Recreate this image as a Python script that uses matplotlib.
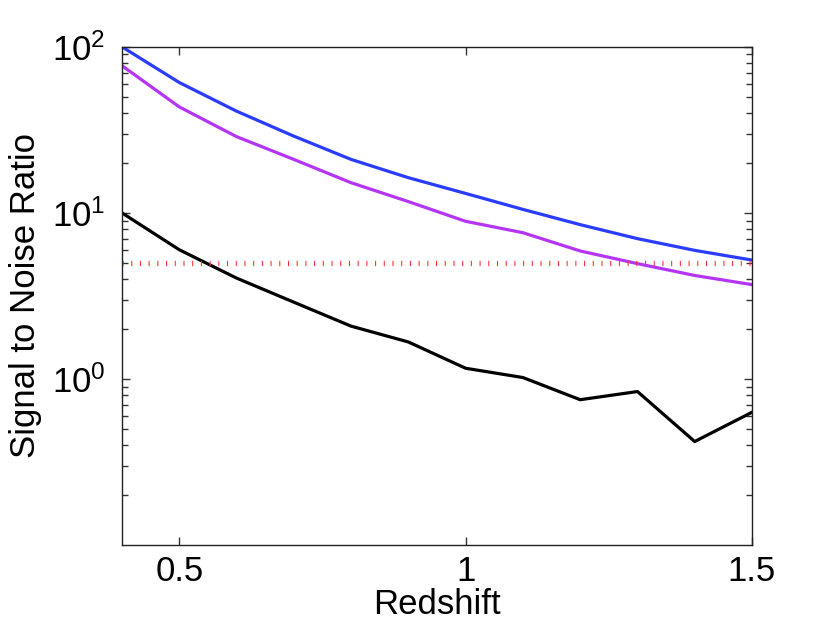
import matplotlib
matplotlib.use("Agg")
import matplotlib.pyplot as plt
import numpy as np

plt.rcParams['font.family'] = ['Liberation Sans', 'DejaVu Sans']
plt.rcParams['mathtext.fontset'] = 'custom'
plt.rcParams['mathtext.rm'] = 'Liberation Sans'
plt.rcParams['mathtext.it'] = 'Liberation Sans'

redshift = [0.4, 0.5, 0.6, 0.7, 0.8, 0.9, 1.0, 1.1, 1.2, 1.3, 1.4, 1.5]
snr_blue = [100, 61, 41, 29, 21, 16.3, 13.1, 10.5, 8.5, 7.0, 5.95, 5.2]
snr_purple = [77, 43.5, 28.8, 21, 15.2, 11.7, 8.9, 7.6, 5.9, 4.95, 4.2, 3.7]
snr_black = [10, 6.0, 4.05, 2.9, 2.08, 1.67, 1.16, 1.02, 0.75, 0.84, 0.42, 0.63]
threshold = 5

xticks = [0.5, 1, 1.5]
xticklabels = ['0.5', '1', '1.5']
yticks = [1, 10, 100]
yticklabels = [r'$10^{0}$', r'$10^{1}$', r'$10^{2}$']
yminor = [k * 10.0 ** e for e in (-1, 0, 1) for k in range(2, 10)]

fig = plt.figure(figsize=(8.3, 6.25), dpi=100)
ax = fig.add_axes([0.147, 0.128, 0.759, 0.797])

ax.plot(redshift, snr_blue, color='#2a3cff', lw=2.3)
ax.plot(redshift, snr_purple, color='#b535f5', lw=2.3)
ax.plot(redshift, snr_black, color='black', lw=2.3)
ax.axhline(threshold, color='#ff3030', lw=3.8, dash_capstyle='butt',
           linestyle=(0, (0.2, 1.45)))

ax.set_yscale('log')
ax.set_xlim(0.4, 1.5)
ax.set_ylim(0.1, 100)
ax.set_xticks(xticks)
ax.set_xticklabels(xticklabels)
ax.set_yticks(yticks)
ax.set_yticklabels(yticklabels)
ax.set_yticks(yminor, minor=True)
ax.yaxis.set_minor_formatter(matplotlib.ticker.NullFormatter())
ax.xaxis.set_minor_locator(matplotlib.ticker.NullLocator())

ax.tick_params(which='both', direction='in', top=True, right=True, width=1.0, color='#333333')
ax.tick_params(which='major', length=6, labelsize=25)
ax.tick_params(axis='x', which='major', pad=7)
ax.tick_params(axis='y', which='major', pad=12)
ax.tick_params(which='minor', length=4)
for s in ax.spines.values():
    s.set_linewidth(1.0)
    s.set_color('#222222')

ax.set_xlabel('Redshift', fontsize=25, labelpad=0)
ax.set_ylabel('Signal to Noise Ratio', fontsize=25, labelpad=7)

fig.savefig('out.png', dpi=100)
